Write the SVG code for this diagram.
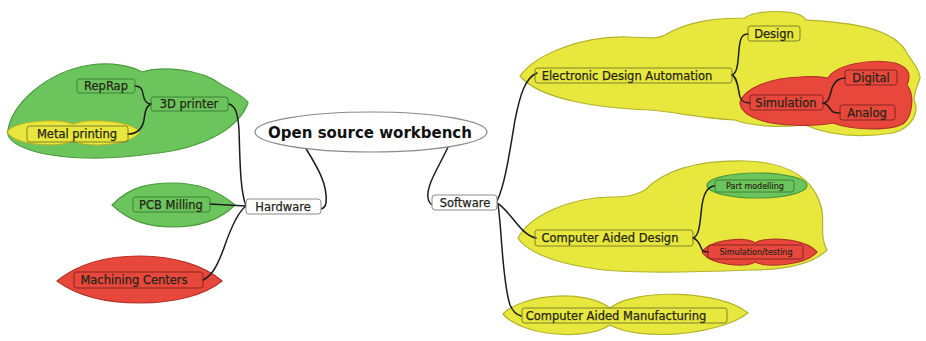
<svg xmlns="http://www.w3.org/2000/svg" width="926" height="341" viewBox="0 0 926 341">
<style>
text{font-family:"DejaVu Sans","Liberation Sans",sans-serif;font-size:11.5px;fill:#262618;stroke:#262618;stroke-width:0.25;text-anchor:middle;dominant-baseline:central}
.sm{font-size:8px;stroke-width:0.15}
.root{font-size:15px;font-weight:bold;fill:#111;stroke:none}
.cy{fill:#e7e73d;stroke:#b3b32e;stroke-width:1.2}
.cg{fill:#6cc45c;stroke:#4c9c3e;stroke-width:1.2}
.cr{fill:#e8473b;stroke:#b5342a;stroke-width:1.2}
.by{fill:none;stroke:#77772a;stroke-width:0.9}
.bg{fill:none;stroke:#3b7a33;stroke-width:0.9}
.br{fill:none;stroke:#7a2420;stroke-width:0.9}
.bw{fill:#fff;stroke:#8a8a8a;stroke-width:1}
.ln{fill:none;stroke:#1c1c1c;stroke-width:1.5;stroke-linecap:round}
</style>
<rect width="926" height="341" fill="#fff"/>
<g id="clouds">
<path class="cg" d="M8,130 C12,105 45,72 90,65 C112,62 132,66 142,72 C160,66 200,68 222,85 C235,92 248,100 248,103 C240,125 210,148 150,154 C110,160 60,160 30,150 C15,145 6,138 8,130 Z"/>
<path class="cy" d="M7,132 C15,120 60,118 73,124 C88,118 130,120 140,132 C130,146 88,148 73,141 C60,148 15,146 7,132 Z"/>
<path class="cg" d="M112,205 C130,186 150,183 173,183 C200,183 220,192 235,205 C220,220 200,227 173,227 C150,227 130,222 112,205 Z"/>
<path class="cr" d="M57,281 C80,262 110,256 140,256 C175,256 205,266 222,281 C205,295 175,303 140,303 C110,303 80,298 57,281 Z"/>
<path class="cy" d="M520,76 C535,55 580,36 627,37 C645,37 655,40 665,35 C690,20 720,18 745,18 C752,10 800,8 806,20 C840,22 895,25 908,55 C915,65 920,72 920,78 C918,85 914,92 914,100 C920,112 912,128 893,133 C860,138 830,136 805,125 C780,128 750,126 735,120 C700,118 675,112 650,110 C600,108 540,100 520,76 Z"/>
<path class="cr" d="M740,102 C745,88 770,78 800,77 C812,76 822,77 828,78 C835,65 870,58 895,63 C912,68 910,78 907,85 C915,95 912,115 905,122 C895,132 850,130 833,123 C815,127 775,126 760,120 C748,116 740,110 740,102 Z"/>
<path class="cy" d="M518,238 C530,215 570,198 610,197 C625,197 635,196 645,190 C665,170 700,160 745,161 C790,162 815,180 822,210 C824,225 820,238 827,250 C815,262 790,270 750,270 C700,272 620,274 590,268 C550,262 525,250 518,238 Z"/>
<ellipse class="cg" cx="757" cy="185.5" rx="50" ry="12.5"/>
<path class="cr" d="M702,252 C710,240 745,236 755,243 C765,236 805,238 817,252 C805,266 765,268 755,262 C745,268 710,265 702,252 Z"/>
<path class="cy" d="M503,314 C520,295 585,288 610,308 C635,288 720,290 748,313 C720,335 640,342 610,325 C585,342 520,335 503,314 Z"/>
</g>
<g id="connectors">
<path class="ln" d="M305,147 C318,168 328,185 326,203 Q325,208 321,209"/>
<path class="ln" d="M448,147 C440,165 426,185 428,198 Q429,204 433,205"/>
<path class="ln" d="M229,104 C236,106 238,115 239,130 C240,160 240,190 246,206"/>
<path class="ln" d="M210,204 L246,206"/>
<path class="ln" d="M203,280 C212,276 218,265 225,245 C232,225 238,212 246,206"/>
<path class="ln" d="M151,104 C146,104 144,100 143,94 C142,88 140,86 135,86"/>
<path class="ln" d="M151,104 C146,106 145,112 144,120 C142,130 136,134 128,134"/>
<path class="ln" d="M497,201 C505,185 510,150 515,120 C520,95 525,78 537,73"/>
<path class="ln" d="M497,203 C510,210 520,235 536,238"/>
<path class="ln" d="M498,205 C502,230 502,280 510,305 Q514,314 521,316"/>
<path class="ln" d="M732,75 C738,73 738,60 739,50 C740,38 742,34 748,34"/>
<path class="ln" d="M732,75 C738,78 738,90 740,97 C742,102 745,103 750,103"/>
<path class="ln" d="M823,103 C829,103 830,95 832,88 C835,80 840,78 845,78"/>
<path class="ln" d="M823,103 C829,104 830,110 833,112 Q836,113 840,113"/>
<path class="ln" d="M693,238 C700,236 700,220 702,205 C704,192 708,186 715,186"/>
<path class="ln" d="M693,238 C700,240 700,248 703,251 Q705,252 708,252"/>
</g>
<g id="root"><ellipse cx="371" cy="132" rx="116" ry="20" fill="#fff" stroke="#8a8a8a" stroke-width="1.2"/><text class="root" x="370" y="133">Open source workbench</text></g>
<g id="hardware"><rect class="bw" x="246" y="199" width="75" height="15" rx="3"/><text x="283" y="207">Hardware</text></g>
<g id="software"><rect class="bw" x="432" y="195" width="65" height="15" rx="3"/><text x="465" y="203">Software</text></g>
<g id="reprap"><rect class="bg" x="77" y="79" width="58" height="14" rx="2.5"/><text x="106" y="86">RepRap</text></g>
<g id="printer3d"><rect class="bg" x="151" y="97" width="77" height="14" rx="2.5"/><text x="189" y="104">3D printer</text></g>
<g id="metal"><rect class="by" x="27" y="126" width="101" height="16" rx="2.5"/><text x="77" y="134">Metal printing</text></g>
<g id="pcb"><rect class="bg" x="133" y="197" width="77" height="15" rx="2.5"/><text x="171" y="205">PCB Milling</text></g>
<g id="machining"><rect class="br" x="74" y="272" width="129" height="16" rx="2.5"/><text x="134" y="280">Machining Centers</text></g>
<g id="eda"><rect class="by" x="535" y="68" width="197" height="15" rx="2.5"/><text x="627" y="76">Electronic Design Automation</text></g>
<g id="design"><rect class="by" x="748" y="26" width="52" height="15" rx="2.5"/><text x="774" y="34">Design</text></g>
<g id="simulation"><rect class="br" x="750" y="95" width="73" height="15" rx="2.5"/><text x="786" y="103">Simulation</text></g>
<g id="digital"><rect class="br" x="845" y="70" width="52" height="15" rx="2.5"/><text x="871" y="78">Digital</text></g>
<g id="analog"><rect class="br" x="840" y="105" width="55" height="15" rx="2.5"/><text x="867" y="113">Analog</text></g>
<g id="cad"><rect class="by" x="535" y="230" width="158" height="16" rx="2.5"/><text x="610" y="238">Computer Aided Design</text></g>
<g id="partmodelling"><rect class="bg" x="715" y="180" width="79" height="12" rx="2.5"/><text class="sm" x="755" y="186">Part modelling</text></g>
<g id="simtesting"><rect class="br" x="708" y="245" width="95" height="14" rx="2.5"/><text class="sm" x="756" y="252">Simulation/testing</text></g>
<g id="cam"><rect class="by" x="522" y="308" width="205" height="15" rx="2.5"/><text x="616" y="316">Computer Aided Manufacturing</text></g>
</svg>
